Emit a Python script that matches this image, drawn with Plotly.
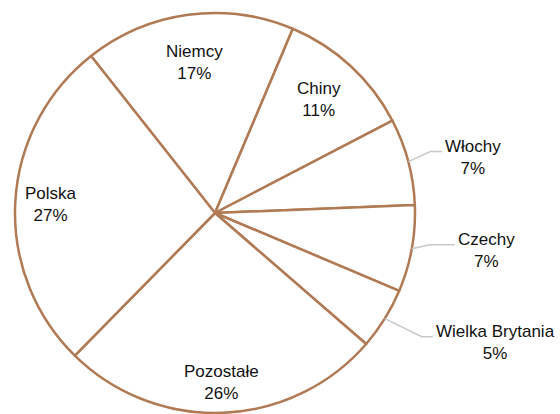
import math
import plotly.graph_objects as go

# data
countries = ["Niemcy", "Chiny", "Włochy", "Czechy", "Wielka Brytania", "Pozostałe", "Polska"]
shares = [17, 11, 7, 7, 5, 26, 27]

# label styling: inside labels sit at a fraction of the radius,
# outside labels get a leader line (elbow offset from the rim, horizontal length)
inside_r = {"Niemcy": 0.76, "Chiny": 0.77, "Pozostałe": 0.85, "Polska": 0.82}
leaders = {"Włochy": (22, -10, 12), "Czechy": (18, -4, 25), "Wielka Brytania": (37, 18, 11)}

W, H = 560, 414
CX, CY, R = 215, 213, 200  # pie centre and radius in pixels
ROTATION = -38.3
EDGE = "#B07A55"
FONT = dict(family="Liberation Sans, Arial, sans-serif", size=17, color="#111111")


def px(x, y):
    return x / W, 1 - y / H


def point(angle, r):
    a = math.radians(angle)
    return CX + r * math.sin(a), CY - r * math.cos(a)


fig = go.Figure()
fig.add_trace(
    go.Pie(
        labels=countries,
        values=shares,
        sort=False,
        direction="clockwise",
        rotation=ROTATION,
        textinfo="none",
        hoverinfo="label+percent",
        marker=dict(colors=["white"] * len(countries), line=dict(color=EDGE, width=2.5)),
        showlegend=False,
        domain=dict(
            x=[px(CX - R, 0)[0], px(CX + R, 0)[0]],
            y=[max(0, px(0, CY + R)[1]), px(0, CY - R)[1]],
        ),
    )
)

total = sum(shares)
start = ROTATION
shapes, annotations = [], []
for name, val in zip(countries, shares):
    span = 360 * val / total
    mid = start + span / 2
    start += span
    text = f"{name}<br>{round(100 * val / total)}%"
    if name in leaders:
        ddx, ddy, run = leaders[name]
        x0, y0 = point(mid, R)
        x1, y1 = x0 + ddx, y0 + ddy
        x2 = x1 + run
        p0, p1, p2 = px(x0, y0), px(x1, y1), px(x2, y1)
        shapes.append(dict(
            type="path", xref="paper", yref="paper",
            path=f"M {p0[0]},{p0[1]} L {p1[0]},{p1[1]} L {p2[0]},{p2[1]}",
            line=dict(color="#C8C8C8", width=1.5),
        ))
        ax, ay = px(x2 + 1, y1 + 6)
        annotations.append(dict(x=ax, y=ay, xref="paper", yref="paper", text=text,
                                showarrow=False, xanchor="left", yanchor="middle",
                                align="center", font=FONT))
    else:
        lx, ly = point(mid, R * inside_r[name])
        ax, ay = px(lx, ly)
        annotations.append(dict(x=ax, y=ay, xref="paper", yref="paper", text=text,
                                showarrow=False, xanchor="center", yanchor="middle",
                                align="center", font=FONT))

fig.update_layout(
    width=W,
    height=H,
    margin=dict(l=0, r=0, t=0, b=0),
    paper_bgcolor="white",
    plot_bgcolor="white",
    shapes=shapes,
    annotations=annotations,
)

# drop the default page margin so the figure fills the window exactly
fig.write_html(
    "out.html",
    config={"displayModeBar": False},
    post_script="document.body.style.margin = '0';",
)
